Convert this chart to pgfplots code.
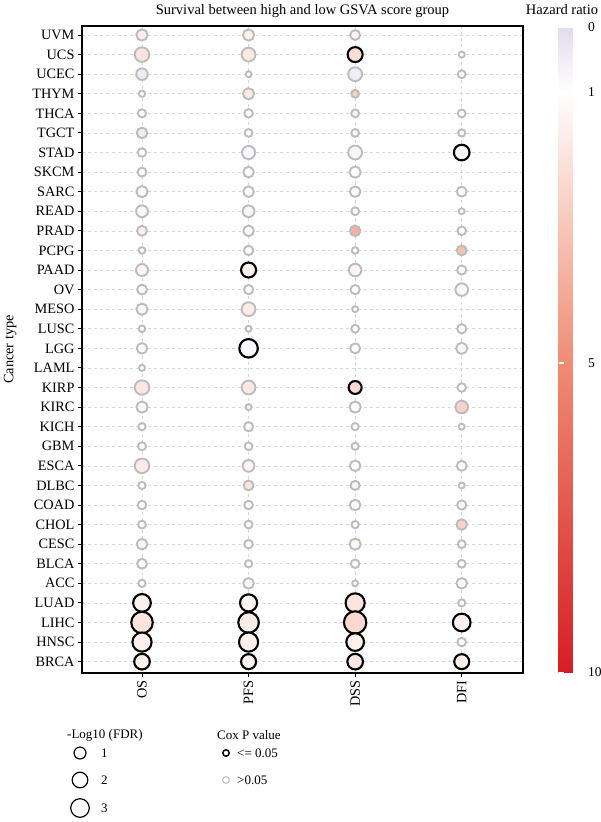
\documentclass[border=0pt]{standalone}
\usepackage{pgfplots}
\pgfplotsset{compat=1.18}
\usepackage{pgfplotstable}
\usepackage{fontspec}
\setmainfont{Liberation Serif}

\definecolor{bubgray}{RGB}{188,188,188}
\definecolor{gridgray}{RGB}{215,215,215}
\pgfplotsset{colormap={hr}{rgb255(0cm)=(213,30,35); rgb255(4.8cm)=(240,140,115); rgb255(9cm)=(255,255,255); rgb255(10cm)=(226,219,238)}}

% x = survival type (0 OS, 1 PFS, 2 DSS, 3 DFI); y = cancer row (0 UVM ... 32 BRCA)
% hr = hazard ratio (fill), v = -log10(FDR) (size)
\pgfplotstableread{
x y hr v
0 0 1.6 1.0
0 1 2.0 1.9
0 2 0.45 1.1
0 3 1.0 0.05
0 4 1.0 0.35
0 5 0.5 0.85
0 6 1.0 0.43
0 7 1.0 0.5
0 8 0.8 1.0
0 9 0.75 1.15
0 10 1.5 0.7
0 11 1.0 0.1
0 12 1.4 1.2
0 13 0.9 0.7
0 14 0.8 1.0
0 15 1.0 0.1
0 16 0.85 0.85
0 17 1.0 0.0
0 18 1.9 1.9
0 19 0.8 1.0
0 20 1.0 0.2
0 21 1.0 0.35
0 22 1.7 1.9
0 23 1.0 0.2
0 24 1.0 0.43
0 25 1.0 0.3
0 26 1.4 0.85
0 27 0.9 0.7
0 28 1.0 0.2
1 0 1.5 1.0
1 1 1.8 1.7
1 2 1.0 0.0
1 3 1.8 1.0
1 4 1.0 0.43
1 5 1.0 0.3
1 6 0.8 1.5
1 7 1.0 0.85
1 8 0.9 0.85
1 9 0.75 1.15
1 10 0.9 0.85
1 11 0.9 0.6
1 13 1.0 0.56
1 14 1.7 1.7
1 15 1.0 0.0
1 18 1.8 1.7
1 19 1.0 0.0
1 20 0.8 0.56
1 21 1.0 0.3
1 22 1.4 1.15
1 23 2.0 0.7
1 24 1.0 0.43
1 25 1.0 0.3
1 26 1.0 0.43
1 27 1.0 0.2
1 28 0.75 0.85
2 0 1.4 0.7
2 2 0.5 1.7
2 3 2.7 0.3
2 4 1.4 0.3
2 5 0.75 0.3
2 6 0.75 1.7
2 7 1.0 1.0
2 8 1.0 0.85
2 9 1.0 0.3
2 10 3.8 0.85
2 11 1.0 0.1
2 12 1.4 1.35
2 13 1.0 0.56
2 14 1.0 0.0
2 15 1.0 0.3
2 16 1.0 0.7
2 19 0.85 1.0
2 20 1.0 0.2
2 21 1.0 0.2
2 22 1.0 0.85
2 23 0.75 0.56
2 24 1.0 0.85
2 25 1.0 0.2
2 26 1.4 1.0
2 27 1.0 0.43
2 28 1.0 0.0
3 1 1.0 0.0
3 2 1.0 0.3
3 4 1.0 0.3
3 5 1.0 0.2
3 8 0.9 0.7
3 9 1.0 0.0
3 10 1.0 0.43
3 11 3.3 0.7
3 12 1.3 0.56
3 13 1.3 1.35
3 15 1.0 0.56
3 16 0.8 1.0
3 18 1.0 0.43
3 19 2.6 1.35
3 20 1.0 0.0
3 22 0.85 0.7
3 23 1.0 0.0
3 24 1.3 0.56
3 25 2.6 0.85
3 26 1.0 0.3
3 27 1.0 0.3
3 28 0.8 0.85
3 29 1.0 0.2
3 31 1.0 0.43
}\nsdata

\pgfplotstableread{
x y hr v
0 29 1.5 3.0
0 30 2.0 4.5
0 31 1.6 3.55
0 32 1.5 2.3
1 12 1.5 2.1
1 16 0.8 3.3
1 29 1.4 2.8
1 30 1.7 4.1
1 31 1.6 3.55
1 32 1.4 2.1
2 1 2.2 2.1
2 18 2.4 1.5
2 29 2.0 3.55
2 30 2.4 4.9
2 31 1.6 3.0
2 32 1.9 2.3
3 6 0.75 2.3
3 30 1.5 3.0
3 32 1.5 2.1
}\sigdata

\pgfplotstableread{
x y v
80 753 1
80 780 2
80 808 3
}\sizelegend

\begin{document}
\begin{tikzpicture}
\useasboundingbox (0pt,0pt) rectangle (600pt,-822pt);

\begin{axis}[
  at={(82pt,-673pt)}, anchor=south west,
  scale only axis, width=441pt, height=647pt,
  xmin=-0.563, xmax=3.575, ymin=-0.46, ymax=32.58, y dir=reverse,
  xtick={0,1,2,3}, xticklabels={OS,PFS,DSS,DFI},
  ytick={0,...,32},
  yticklabels={UVM,UCS,UCEC,THYM,THCA,TGCT,STAD,SKCM,SARC,READ,PRAD,PCPG,PAAD,OV,MESO,LUSC,LGG,LAML,KIRP,KIRC,KICH,GBM,ESCA,DLBC,COAD,CHOL,CESC,BLCA,ACC,LUAD,LIHC,HNSC,BRCA},
  xticklabel style={rotate=90, anchor=east},
  tick align=outside, xtick pos=bottom, ytick pos=left,
  major tick length=4pt, tick style={black, line width=0.9pt},
  grid=major, major grid style={gridgray, dash pattern=on 3pt off 3pt, line width=0.6pt},
  axis line style={line width=1.1pt},
  tick label style={font=\fontsize{14.3}{16}\selectfont},
  /pgf/number format/assume math mode=true,
  ylabel={Cancer type},
  ylabel style={at={(axis description cs:-0.163,0.5)}, anchor=center, font=\fontsize{14.3}{16}\selectfont},
  title={Survival between high and low GSVA score group},
  title style={at={(axis description cs:0.5,1)}, anchor=base, yshift=6pt, font=\fontsize{14.5}{16}\selectfont},
  colormap name=hr, point meta min=-10, point meta max=0,
  colorbar,
  colorbar style={
    at={(parent axis.north east)}, anchor=north west,
    xshift=27pt, yshift=-1.5pt,
    scale only axis, width=22pt, height=645pt,
    ytick={-10,-5.2,-1,0}, yticklabels={10,5,1,0},
    ytick pos=both, yticklabel pos=right, tick align=inside,
    major tick length=5pt, ytick style={white, line width=1.2pt},
    axis line style={draw=none},
    yticklabel style={font=\fontsize{13.5}{15}\selectfont, xshift=4pt},
  },
]
\addplot[only marks, mark=*, scatter, scatter src=explicit,
  scatter/use mapped color={draw=bubgray, fill=mapped color, line width=1.9pt},
  visualization depends on={sqrt(62+110*\thisrow{v})/2-0.95 \as \rad},
  scatter/@pre marker code/.append style={/tikz/mark size=\rad}]
  table[x=x, y=y, meta expr=-\thisrow{hr}] {\nsdata};
\addplot[only marks, mark=*, scatter, scatter src=explicit,
  scatter/use mapped color={draw=black, fill=mapped color, line width=2.1pt},
  visualization depends on={sqrt(62+110*\thisrow{v})/2-1.05 \as \rad},
  scatter/@pre marker code/.append style={/tikz/mark size=\rad}]
  table[x=x, y=y, meta expr=-\thisrow{hr}] {\sigdata};
\end{axis}

\begin{axis}[
  at={(0pt,-822pt)}, anchor=south west,
  scale only axis, width=600pt, height=822pt,
  xmin=0, xmax=600, ymin=0, ymax=822, y dir=reverse,
  hide axis, clip=false,
]
\addplot[only marks, mark=*,
  visualization depends on={sqrt(62+110*\thisrow{v})/2-0.6 \as \rad},
  scatter, scatter src=explicit,
  scatter/use mapped color={draw=black, fill=white, line width=1.2pt},
  scatter/@pre marker code/.append style={/tikz/mark size=\rad}]
  table[x=x, y=y, meta=v] {\sizelegend};
\addplot[only marks, mark=*, mark size=3.2pt, mark options={draw=black, fill=white, line width=1.5pt}]
  coordinates {(226,753)};
\addplot[only marks, mark=*, mark size=3.4pt, mark options={draw=bubgray, fill=white, line width=1pt}]
  coordinates {(226,780)};
\begin{scope}[every node/.style={anchor=west, inner sep=0pt, font=\fontsize{13}{15}\selectfont}]
\node at (axis cs:67,735) {-Log10 (FDR)};
\node at (axis cs:101,753) {1};
\node at (axis cs:101,780) {2};
\node at (axis cs:101,808) {3};
\node at (axis cs:217,735) {Cox P value};
\node at (axis cs:237,753) {<= 0.05};
\node at (axis cs:237,780) {>0.05};
\end{scope}
\node[inner sep=0pt, font=\fontsize{14.5}{16}\selectfont] at (axis cs:562,10) {Hazard ratio};
\end{axis}
\end{tikzpicture}
\end{document}
